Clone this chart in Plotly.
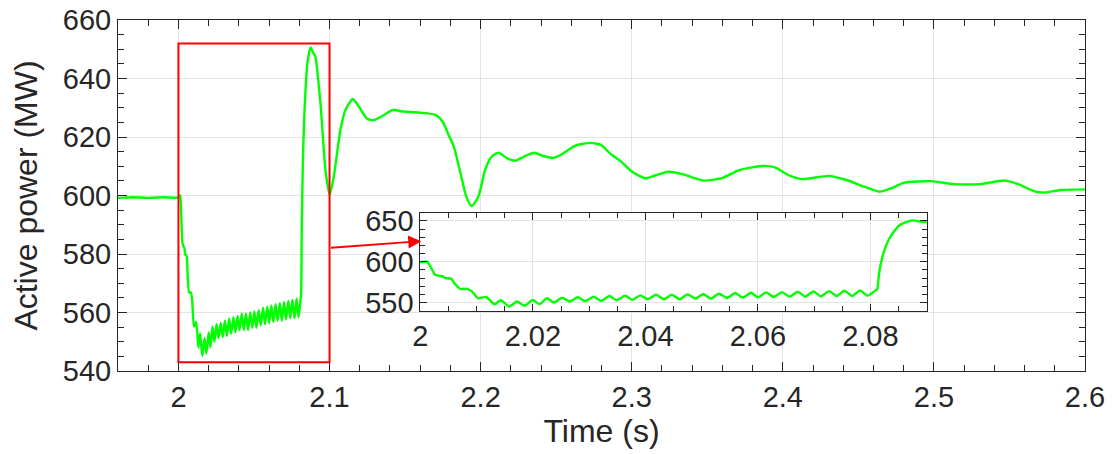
import plotly.graph_objects as go

# Active power response after the disturbance at t = 2 s
time_s = [
    1.960, 1.970, 1.980, 1.990, 2.0000,
    2.0012, 2.0018, 2.0026, 2.0032, 2.0040, 2.0044, 2.0055, 2.0060, 2.0071,
    2.0083, 2.0091, 2.0103, 2.0117, 2.0132, 2.0143, 2.0158, 2.0172, 2.0185,
    2.0200, 2.0212, 2.0225, 2.0238, 2.0252, 2.0265, 2.0280, 2.0293, 2.0308,
    2.0321, 2.0336, 2.0349, 2.0364, 2.0377, 2.0391, 2.0404, 2.0419, 2.0433,
    2.0447, 2.0461, 2.0475, 2.0489, 2.0503, 2.0516, 2.0531, 2.0545, 2.0560,
    2.0573, 2.0588, 2.0600, 2.0615, 2.0628, 2.0643, 2.0656, 2.0671, 2.0684,
    2.0699, 2.0712, 2.0727, 2.0740, 2.0754, 2.0768, 2.0782, 2.0795, 2.0809,
    2.0812, 2.0816, 2.0823, 2.0832, 2.0841, 2.0853, 2.0875, 2.0890, 2.0906,
    2.0940, 2.0973, 2.1001, 2.1028, 2.1072, 2.1105, 2.1154, 2.1194, 2.1249,
    2.1293, 2.1360, 2.1415, 2.1492, 2.1603, 2.1704, 2.1749, 2.1793, 2.1823,
    2.1867, 2.1905, 2.1940, 2.1985, 2.2029, 2.2073, 2.2118, 2.2177, 2.2230,
    2.2295, 2.2354, 2.2413, 2.2487, 2.2546, 2.2620, 2.2723, 2.2797, 2.2856,
    2.2930, 2.3003, 2.3092, 2.3166, 2.3240, 2.3329, 2.3476, 2.3594, 2.3712,
    2.3860, 2.3948, 2.4037, 2.4126, 2.4303, 2.4421, 2.4539, 2.4642, 2.4716,
    2.4805, 2.4982, 2.5130, 2.5307, 2.5469, 2.5558, 2.5661, 2.5735, 2.5838,
    2.6000,
]
power_mw = [
    599.2, 599.4, 599.2, 599.4, 599.3,
    600.0, 594.0, 584.0, 582.8, 582.0, 580.0, 579.2, 574.0, 566.8,
    566.8, 564.0, 555.2, 556.8, 548.0, 552.8, 545.2, 551.2, 546.0,
    553.2, 548.0, 555.2, 550.0, 556.0, 551.2, 556.4, 551.6, 557.2,
    552.0, 558.0, 552.8, 558.4, 553.2, 558.8, 554.0, 559.6, 554.0,
    559.6, 554.0, 560.0, 554.8, 560.4, 554.8, 560.8, 555.6, 561.6,
    556.0, 562.0, 556.4, 562.4, 556.8, 562.8, 557.2, 563.2, 557.2,
    563.6, 557.6, 564.0, 558.0, 564.4, 558.0, 564.8, 558.4, 564.8,
    566.0, 588.0, 610.0, 626.0, 636.0, 645.2, 650.6, 649.0, 647.5,
    631.5, 608.7, 600.2, 606.4, 622.4, 629.2, 633.0, 630.4, 626.2,
    625.8, 627.5, 629.2, 628.7, 628.3, 627.5, 625.2, 620.1, 616.7,
    607.6, 599.6, 596.4, 599.6, 608.7, 613.3, 614.6, 612.7, 611.9,
    613.5, 614.6, 613.5, 612.9, 614.4, 616.9, 618.0, 617.3, 614.4,
    611.6, 608.1, 605.9, 607.0, 608.1, 607.4, 605.1, 605.9, 608.7,
    610.1, 609.6, 607.0, 605.6, 606.7, 605.3, 603.0, 601.3, 602.4,
    604.4, 604.9, 603.9, 603.9, 605.1, 603.9, 601.5, 601.0, 601.9,
    602.1,
]

# Axis settings
main_x_range = [1.96, 2.6]
main_y_range = [540, 660]
inset_x_range = [2.0, 2.09]
inset_y_range = [540, 660]

# Zoomed window marked on the main axes
zoom_box_t = [2.0, 2.1]
zoom_box_p = [543, 652]

FONT = "Arial, 'Liberation Sans', sans-serif"
INK = "#262626"
GRID = "#e3e3e3"
GREEN = "#00ff00"
RED = "#ff0000"

fig = go.Figure()

trace_line = dict(color=GREEN, width=2.4, shape="spline", smoothing=0.6)
fig.add_trace(go.Scatter(
    x=time_s, y=power_mw, mode="lines", line=trace_line,
    xaxis="x", yaxis="y", showlegend=False,
))
fig.add_trace(go.Scatter(
    x=time_s, y=power_mw, mode="lines", line=trace_line,
    xaxis="x2", yaxis="y2", showlegend=False,
))


def axis_style(**kw):
    base = dict(
        showline=True, linecolor=INK, linewidth=1, mirror="allticks",
        ticks="inside", ticklen=9, tickwidth=1, tickcolor=INK,
        showgrid=True, gridcolor=GRID, gridwidth=1, zeroline=False,
        tickfont=dict(family=FONT, size=29, color=INK),
    )
    base.update(kw)
    return base


fig.update_layout(
    width=1112, height=454,
    margin=dict(l=118, r=27, t=20, b=83),
    paper_bgcolor="white", plot_bgcolor="white",
    font=dict(family=FONT, color=INK),
    xaxis=axis_style(
        domain=[0, 1], range=main_x_range, tick0=2.0, dtick=0.1,
        minor=dict(dtick=0.02, ticks="inside", ticklen=6, tickcolor=INK, showgrid=False),
        title=dict(text="Time (s)", font=dict(family=FONT, size=32, color=INK), standoff=7),
        anchor="y", automargin=False,
    ),
    yaxis=axis_style(
        domain=[0, 1], range=main_y_range, tick0=540, dtick=20,
        minor=dict(dtick=5, ticks="inside", ticklen=6, tickcolor=INK, showgrid=False),
        title=dict(text="Active power (MW)", font=dict(family=FONT, size=32, color=INK), standoff=15),
        anchor="x", automargin=False,
    ),
    xaxis2=axis_style(
        domain=[0.3127, 0.8362], range=inset_x_range, tick0=2.0, dtick=0.02,
        minor=dict(dtick=0.005, ticks="inside", ticklen=5, tickcolor=INK, showgrid=False),
        anchor="y2", automargin=False, ticklen=7,
    ),
    yaxis2=axis_style(
        domain=[0.1718, 0.4510], range=inset_y_range, tick0=550, dtick=50,
        minor=dict(dtick=10, ticks="inside", ticklen=5, tickcolor=INK, showgrid=False),
        anchor="x2", automargin=False, ticklen=7,
    ),
)

# Red frame around the zoomed interval
fig.add_shape(
    type="rect", xref="x", yref="y",
    x0=zoom_box_t[0], x1=zoom_box_t[1], y0=zoom_box_p[0], y1=zoom_box_p[1],
    line=dict(color=RED, width=2), fillcolor="rgba(0,0,0,0)", layer="above",
)

# Arrow from the frame to the inset
fig.add_annotation(
    xref="x", yref="y", axref="x", ayref="y",
    x=2.1607, y=584.4, ax=2.1, ay=582.1,
    text="", showarrow=True, arrowhead=2, arrowsize=1.3, arrowwidth=2,
    arrowcolor=RED, standoff=0, startstandoff=0,
)

fig.write_html("out.html")
